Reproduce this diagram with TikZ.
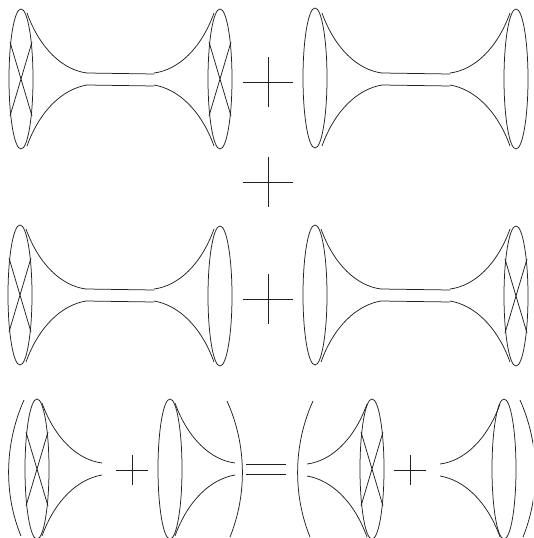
\documentclass[tikz,border=0pt]{standalone}
\usepackage{tikz}
\definecolor{lineblack}{HTML}{202020}
% ring at (x,y)
\newcommand{\ring}[2]{\draw (#1,#2) ellipse (12 and 70);}
% ring with the two crossing chords
\newcommand{\crossring}[2]{
  \ring{#1}{#2}
  \draw (#1-11,#2-37) -- (#1+11,#2+37);
  \draw (#1+11,#2-37) -- (#1-11,#2+37);
}
% open end of a horn: x,y of the ring side, xsign (1 = opens right), neck length 60
\newcommand{\horn}[3]{
  \draw (#1,#2-66) .. controls (#1+#3*13,#2-30) and (#1+#3*36,#2-9) .. (#1+#3*60,#2-6);
  \draw (#1,#2+67) .. controls (#1+#3*13,#2+31) and (#1+#3*36,#2+10) .. (#1+#3*60,#2+6);
}
% full tube between two rings
\newcommand{\tube}[3]{
  \horn{#1}{#3}{1}
  \horn{#2}{#3}{-1}
  \draw (#1+60,#3-6) -- (#2-60,#3-5);
  \draw (#1+60,#3+6) -- (#2-60,#3+7);
}
\newcommand{\bigplus}[2]{
  \draw (#1-25,#2) -- (#1+25,#2);
  \draw (#1,#2-25) -- (#1,#2+25);
}
\newcommand{\smallplus}[2]{
  \draw (#1-16,#2) -- (#1+16,#2);
  \draw (#1,#2-15) -- (#1,#2+15);
}
\begin{document}
\begin{tikzpicture}[x=1pt,y=-1pt,lineblack,line width=0.75pt]
  \useasboundingbox (0,0) rectangle (533,538);
  \clip (0,0) rectangle (533,538);
  % first row
  \crossring{21}{79}
  \crossring{220}{79}
  \tube{27}{214}{79}
  \bigplus{268}{82}
  \ring{315}{78}
  \ring{516}{79}
  \tube{322}{510}{79}
  % middle plus
  \bigplus{268}{182}
  % second row
  \crossring{20}{295}
  \ring{220}{296}
  \tube{26}{214}{295}
  \bigplus{268}{299}
  \ring{315}{295}
  \crossring{516}{296}
  \tube{321}{510}{295}
  % third row, left side
  \draw (24,400) .. controls (4,445) and (4,495) .. (21,536);
  \crossring{37}{469}
  \horn{42}{469}{1}
  \smallplus{132}{470}
  \ring{170}{469}
  \horn{175}{469}{1}
  \draw (227,401) .. controls (247,445) and (247,495) .. (230,537);
  % equals
  \draw (246,464) -- (286,464);
  \draw (246,474) -- (286,474);
  % third row, right side
  \draw (313,401) .. controls (293,445) and (293,495) .. (310,537);
  \crossring{372}{469}
  \horn{367}{470}{-1}
  \smallplus{410}{470}
  \ring{504}{469}
  \horn{500}{470}{-1}
  \draw (520,400) .. controls (540,445) and (540,495) .. (523,537);
\end{tikzpicture}
\end{document}
